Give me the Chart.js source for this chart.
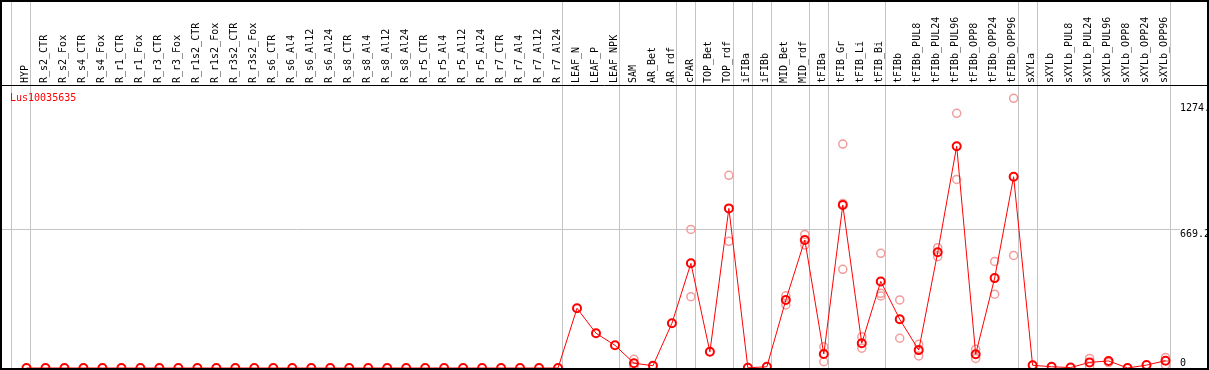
<!DOCTYPE html>
<html>
<head>
<meta charset="utf-8">
<script src="https://cdn.jsdelivr.net/npm/chart.js@4/dist/chart.umd.min.js"></script>
<style>
    html, body { margin: 0; padding: 0; background: #fff; }
    canvas { display: block; }
</style>
</head>
<body>
<canvas id="myChart" width="1209" height="370"></canvas>
<script>
const geneName = 'Lus10035635';

const categories = [
    'HYP', 'R_s2_CTR', 'R_s2_Fox', 'R_s4_CTR', 'R_s4_Fox', 'R_r1_CTR', 'R_r1_Fox', 'R_r3_CTR', 'R_r3_Fox',
    'R_r1s2_CTR', 'R_r1s2_Fox', 'R_r3s2_CTR', 'R_r3s2_Fox', 'R_s6_CTR', 'R_s6_Al4', 'R_s6_Al12', 'R_s6_Al24',
    'R_s8_CTR', 'R_s8_Al4', 'R_s8_Al12', 'R_s8_Al24', 'R_r5_CTR', 'R_r5_Al4', 'R_r5_Al12', 'R_r5_Al24',
    'R_r7_CTR', 'R_r7_Al4', 'R_r7_Al12', 'R_r7_Al24', 'LEAF_N', 'LEAF_P', 'LEAF_NPK', 'SAM', 'AR_Bet', 'AR_rdf',
    'cPAR', 'TOP_Bet', 'TOP_rdf', 'iFIBa', 'iFIBb', 'MID_Bet', 'MID_rdf', 'tFIBa', 'tFIB_Gr', 'tFIB_Li', 'tFIB_Bi',
    'tFIBb', 'tFIBb_PUL8', 'tFIBb_PUL24', 'tFIBb_PUL96', 'tFIBb_OPP8', 'tFIBb_OPP24', 'tFIBb_OPP96',
    'sXYLa', 'sXYLb', 'sXYLb_PUL8', 'sXYLb_PUL24', 'sXYLb_PUL96', 'sXYLb_OPP8', 'sXYLb_OPP24', 'sXYLb_OPP96'
];

// last category of each sample group (grey separators)
const groupEnds = ['HYP', 'R_r7_Al24', 'LEAF_NPK', 'AR_rdf', 'cPAR', 'TOP_rdf', 'iFIBa', 'iFIBb',
    'MID_rdf', 'tFIBa', 'tFIB_Bi', 'tFIBb_OPP96', 'sXYLa', 'sXYLb_OPP96'];

// mean expression
const meanValues = [
    0, 0, 0, 0, 0, 0, 0, 0, 0, 0, 0, 0, 0, 0, 0, 0, 0, 0, 0, 0, 0, 0, 0, 0, 0, 0, 0, 0, 0,
    287, 167, 109, 23, 11, 215,
    503, 78, 767, 1, 6, 327, 615, 67, 783, 119, 416,
    234, 86, 556, 1066, 66, 432, 919,
    13, 6, 2, 27, 34, 0, 14, 35
];

// replicates
const rep1 = [
    null, null, null, null, null, null, null, null, null, null, null, null, null, null, null, null, null, null, null, null, null, null, null, null, null, null, null, null, null,
    null, null, null, 42, null, null,
    666, null, 926, null, null, 347, 642, 102, 1076, 150, 551,
    327, 114, 578, 1224, 90, 512, 1296,
    null, null, null, 46, 26, null, null, 51
];
const rep2 = [
    null, null, null, null, null, null, null, null, null, null, null, null, null, null, null, null, null, null, null, null, null, null, null, null, null, null, null, null, null,
    null, null, null, 6, null, null,
    343, null, 609, null, null, 303, 591, 30, 474, 95, 359,
    143, 58, 535, 906, 46, 355, 541,
    null, null, null, 6, null, null, null, 14
];
const rep3 = [
    null, null, null, null, null, null, null, null, null, null, null, null, null, null, null, null, null, null, null, null, null, null, null, null, null, null, null, null, null,
    null, null, null, null, null, null,
    null, null, null, null, null, null, null, null, 791, null, 346,
    null, null, null, null, null, null, null,
    null, null, null, null, null, null, null, null
];

const yMax = 1360;
const yTickValues = [0, 669.2, 1274];
const yTickLabels = ['0', '669.2', '1274.'];
const yGridValues = [669.2];

const monoFont = '10px "DejaVu Sans Mono", monospace';

const framePlugin = {
    id: 'frame',
    beforeDatasetsDraw(chart) {
        const ctx = chart.ctx;
        const x = chart.scales.x;
        const y = chart.scales.y;
        const area = chart.chartArea;
        ctx.save();
        ctx.strokeStyle = '#c4c4c4';
        ctx.lineWidth = 1;
        // grid lines
        yGridValues.forEach(v => {
            const py = Math.round(y.getPixelForValue(v)) + 0.5;
            ctx.beginPath();
            ctx.moveTo(2, py);
            ctx.lineTo(y.left + 5, py);
            ctx.stroke();
        });
        // group separators
        const seps = [area.left - 6];
        groupEnds.forEach(c => seps.push(x.getPixelForValue(categories.indexOf(c)) + 4));
        seps.forEach(px => {
            px = Math.round(px) + 0.5;
            ctx.beginPath();
            ctx.moveTo(px, 0);
            ctx.lineTo(px, chart.height);
            ctx.stroke();
        });
        ctx.restore();
    },
    afterDraw(chart) {
        const ctx = chart.ctx;
        const y = chart.scales.y;
        const area = chart.chartArea;
        ctx.save();
        ctx.strokeStyle = '#000';
        ctx.lineWidth = 1;
        ctx.beginPath();
        ctx.moveTo(0, area.top + 0.5);
        ctx.lineTo(chart.width, area.top + 0.5);
        ctx.stroke();
        ctx.lineWidth = 2;
        ctx.strokeRect(1, 1, chart.width - 2, chart.height - 2);

        ctx.font = monoFont;
        ctx.textBaseline = 'top';
        ctx.textAlign = 'left';
        ctx.fillStyle = '#000';
        yTickValues.forEach((v, i) => {
            const py = Math.min(y.getPixelForValue(v) + 1, chart.height - 12);
            ctx.fillText(yTickLabels[i], y.left + 5, py);
        });

        ctx.fillStyle = '#ff0000';
        ctx.fillText(geneName, area.left - 7, area.top + 8);
        ctx.restore();
    }
};

const repStyle = {
    showLine: false,
    pointRadius: 4,
    pointBorderWidth: 1.5,
    pointBorderColor: '#f29c9c',
    pointBackgroundColor: 'rgba(0,0,0,0)',
    clip: false,
    order: 1
};

new Chart(document.getElementById('myChart'), {
    type: 'line',
    data: {
        labels: categories,
        datasets: [
            {
                label: geneName,
                data: meanValues,
                borderColor: '#ff0000',
                borderWidth: 1,
                tension: 0,
                pointRadius: 4,
                pointBorderWidth: 2,
                pointBorderColor: '#ff0000',
                pointBackgroundColor: 'rgba(0,0,0,0)',
                clip: false,
                order: 0
            },
            Object.assign({ label: 'rep1', data: rep1 }, repStyle),
            Object.assign({ label: 'rep2', data: rep2 }, repStyle),
            Object.assign({ label: 'rep3', data: rep3 }, repStyle)
        ]
    },
    options: {
        responsive: false,
        animation: false,
        devicePixelRatio: 1,
        layout: { autoPadding: false, padding: { left: 17, right: 0, top: 0, bottom: 2 } },
        plugins: {
            legend: { display: false },
            tooltip: { enabled: false }
        },
        scales: {
            x: {
                type: 'category',
                position: 'top',
                offset: true,
                grid: { display: false, drawTicks: false },
                border: { display: false },
                ticks: {
                    autoSkip: false,
                    minRotation: 90,
                    maxRotation: 90,
                    padding: 2,
                    labelOffset: 11,
                    color: '#000',
                    font: { family: '"DejaVu Sans Mono", monospace', size: 10 }
                },
                afterFit(scale) { scale.height = 85; }
            },
            y: {
                type: 'linear',
                position: 'right',
                min: 0,
                max: yMax,
                grid: { display: false },
                border: { display: false },
                ticks: { display: false },
                afterFit(scale) {
                    scale.width = 34;
                    scale.paddingTop = 0;
                    scale.paddingBottom = 0;
                }
            }
        }
    },
    plugins: [framePlugin]
});
</script>
</body>
</html>
